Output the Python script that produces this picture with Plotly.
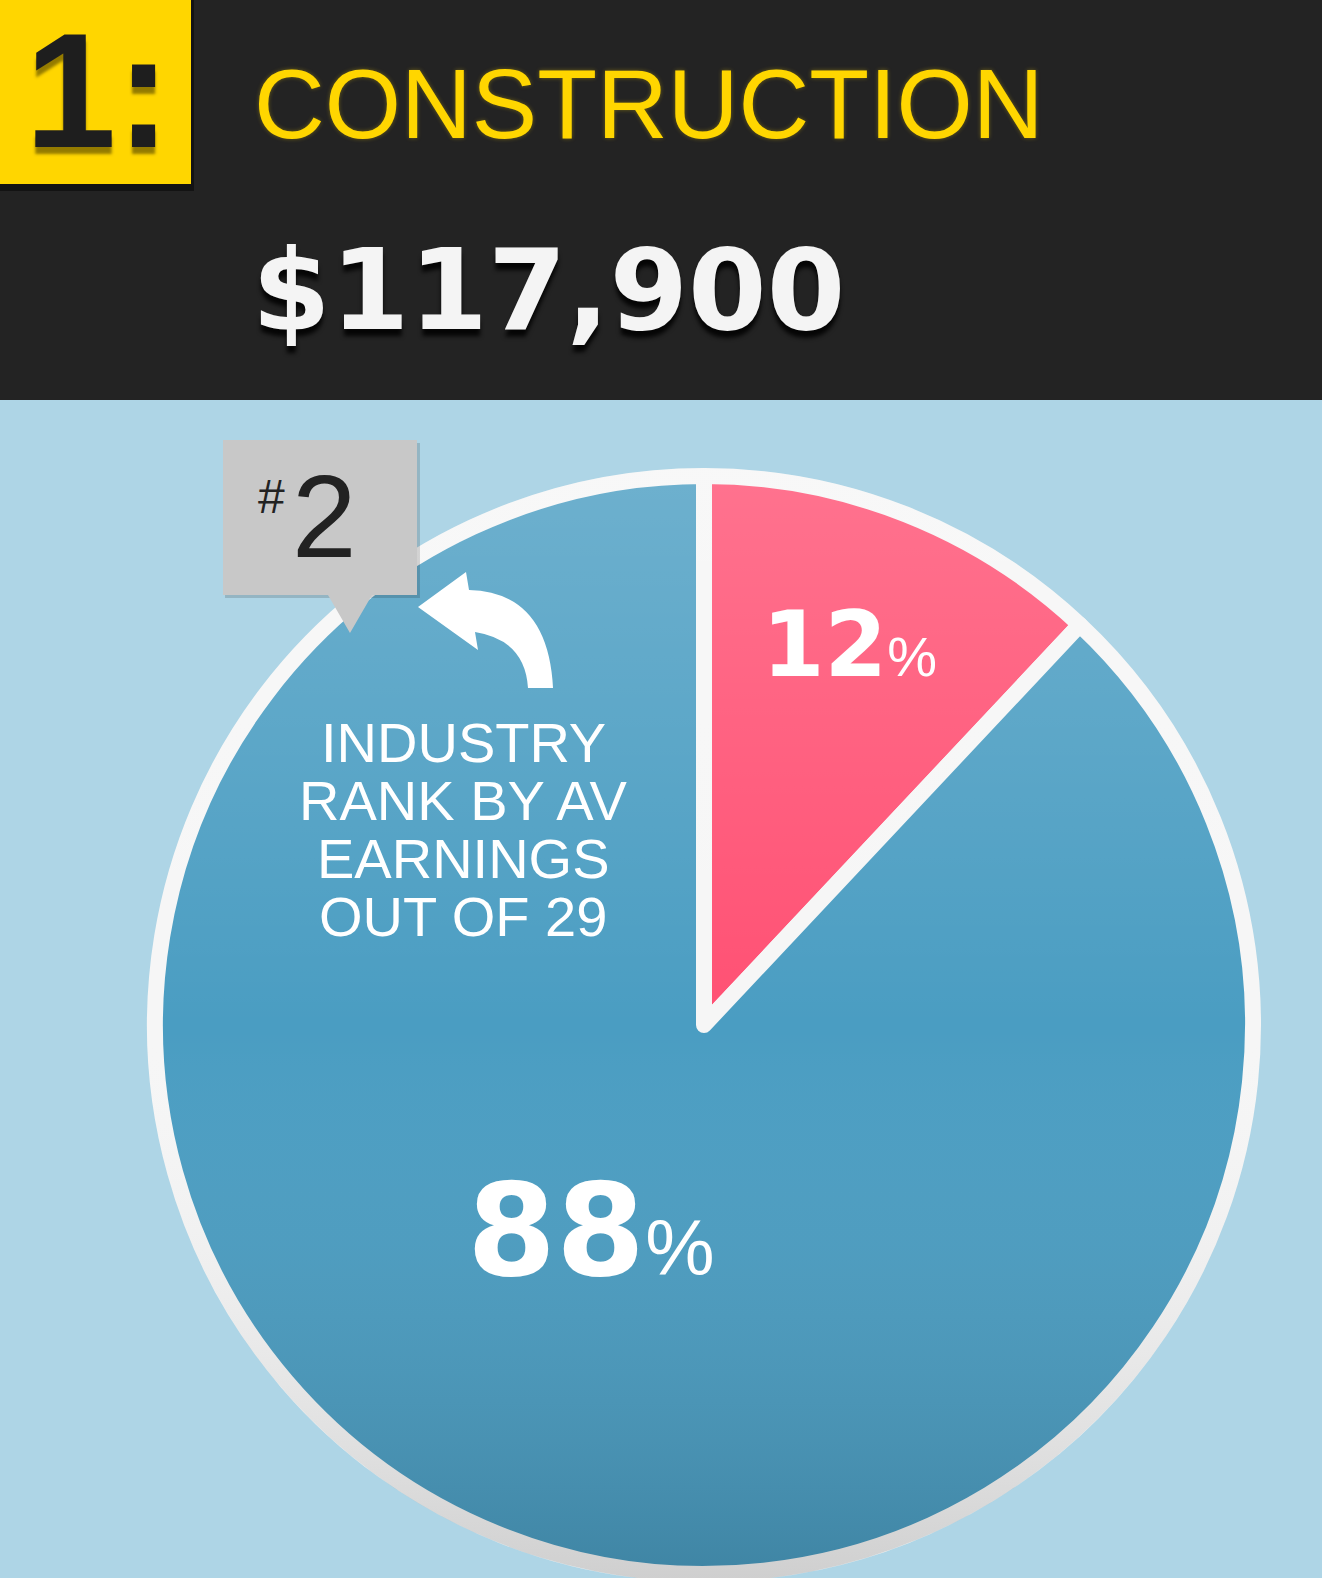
import base64
import plotly.graph_objects as go

# ---------------- data ----------------
rank_position = 1
industry = "CONSTRUCTION"
average_earnings = 117900
industry_rank = 2
industries_total = 29
slice_labels = ["Share highlighted", "Share remaining"]
slice_values = [12, 88]
slice_colors = ["#ff5073", "#4a9dc2"]
rank_caption = ["INDUSTRY", "RANK BY AV", "EARNINGS", f"OUT OF {industries_total}"]

# ---------------- geometry helpers (pixel -> paper) ----------------
W, H = 1322, 1578


def px(x):
    return x / W


def py(y):
    return 1 - y / H


def path(cmds):
    out = []
    for c in cmds:
        if isinstance(c, str):
            out.append(c)
        else:
            out.append(f"{px(c[0]):.5f},{py(c[1]):.5f}")
    return " ".join(out)


# pie placement
cx, cy, R, ring = 704, 1025, 549, 16

fig = go.Figure()
fig.add_trace(go.Pie(
    labels=slice_labels,
    values=slice_values,
    sort=False,
    direction="clockwise",
    rotation=0,
    marker=dict(colors=slice_colors, line=dict(color="#f6f6f6", width=ring)),
    textinfo="none",
    hoverinfo="label+percent",
    showlegend=False,
    domain=dict(x=[px(cx - R), px(cx + R)], y=[py(cy + R), py(cy - R)]),
))

# soft vertical shading over the pie (light at top, darker at bottom)
Ro = R + ring // 2
svg = (
    f"<svg xmlns='http://www.w3.org/2000/svg' width='{2*Ro}' height='{2*Ro}'>"
    "<defs><linearGradient id='g' x1='0' y1='0' x2='0' y2='1'>"
    "<stop offset='0' stop-color='#ffffff' stop-opacity='0.2'/>"
    "<stop offset='0.5' stop-color='#ffffff' stop-opacity='0'/>"
    "<stop offset='1' stop-color='#000000' stop-opacity='0.16'/>"
    "</linearGradient></defs>"
    f"<circle cx='{Ro}' cy='{Ro}' r='{Ro}' fill='url(#g)'/></svg>"
)
svg_uri = "data:image/svg+xml;base64," + base64.b64encode(svg.encode()).decode()
fig.add_layout_image(dict(source=svg_uri, xref="paper", yref="paper",
                          x=px(cx - Ro), y=py(cy - Ro), sizex=2 * Ro / W, sizey=2 * Ro / H,
                          xanchor="left", yanchor="top", sizing="stretch", layer="above"))

shapes = []
# dark header band
shapes.append(dict(type="rect", xref="paper", yref="paper", x0=0, x1=1, y0=py(400), y1=1,
                   fillcolor="#232323", line=dict(width=0), layer="below"))
# yellow box shadow + box
shapes.append(dict(type="rect", xref="paper", yref="paper", x0=0, x1=px(194), y0=py(191), y1=1,
                   fillcolor="rgba(0,0,0,0.45)", line=dict(width=0), layer="below"))
shapes.append(dict(type="rect", xref="paper", yref="paper", x0=0, x1=px(191), y0=py(184), y1=1,
                   fillcolor="#ffd600", line=dict(width=0), layer="below"))
# callout box (#2) shadow, box, pointer
shapes.append(dict(type="path", xref="paper", yref="paper",
                   path=path(["M", (225, 443), "L", (420, 443), "L", (420, 598), "L", (225, 598), "Z"]),
                   fillcolor="rgba(0,0,0,0.15)", line=dict(width=0), layer="above"))
shapes.append(dict(type="path", xref="paper", yref="paper",
                   path=path(["M", (223, 440), "L", (417, 440), "L", (417, 595), "L", (372, 595),
                              "L", (350, 633), "L", (328, 595), "L", (223, 595), "Z"]),
                   fillcolor="#c8c8c8", line=dict(width=0), layer="above"))
# curved white arrow
shapes.append(dict(type="path", xref="paper", yref="paper",
                   path=path(["M", (418, 607), "L", (466, 572), "L", (469, 590),
                              "Q", (548, 592), (553, 688), "L", (528, 688),
                              "Q", (525, 640), (475, 632), "L", (478, 650), "Z"]),
                   fillcolor="#ffffff", line=dict(width=0), layer="above"))
fig.update_layout(shapes=shapes)

annotations = []
HB = "Liberation Sans, Arial, Helvetica, sans-serif"
WIDE = "DejaVu Sans, Verdana, sans-serif"


def ann(text, x, y, size, color, family=HB, xanchor="center", shadow=None):
    f = dict(size=size, color=color, family=family)
    if shadow:
        f["shadow"] = shadow
    annotations.append(dict(text=text, x=px(x), y=py(y), xref="paper", yref="paper",
                            xanchor=xanchor, yanchor="middle", showarrow=False, font=f))


ann(f"<b>{rank_position}:</b>", 98, 90, 164, "#1e1e1e", shadow="0px 7px 3px rgba(60,50,0,0.55)")
ann(industry, 252, 104, 98, "#ffd600", xanchor="left", shadow="0px 0px 4px rgba(255,214,0,0.35)")
ann(f"<b>${average_earnings:,}</b>", 250, 290, 113, "#f4f4f4", family=WIDE, xanchor="left",
    shadow="0px 7px 4px rgba(0,0,0,0.85)")
ann("#", 256, 496, 48, "#222222", xanchor="left")
ann(str(industry_rank), 290, 517, 116, "#222222", xanchor="left")
for i, line in enumerate(rank_caption):
    ann(line, 463, 742 + i * 58.3, 56, "#ffffff")
pct_sizes = [(90, 56, 850, 644), (128, 78, 590, 1230)]
for v, (big, small, x, y) in zip(slice_values, pct_sizes):
    ann(f"<b>{v}</b><span style='font-size:{small}px;font-family:Liberation Sans'>%</span>",
        x, y, big, "#ffffff", family=WIDE)
fig.update_layout(annotations=annotations)

fig.update_layout(
    width=W, height=H,
    margin=dict(l=0, r=0, t=0, b=0),
    paper_bgcolor="#aed5e6",
    plot_bgcolor="#aed5e6",
    showlegend=False,
)
fig.write_html("out.html", config={"displayModeBar": False},
               post_script="document.body.style.margin='0';")
